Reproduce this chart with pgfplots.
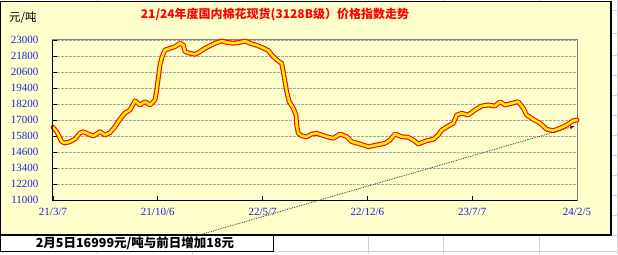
\documentclass[border=0pt]{standalone}
\usepackage{fontspec}
\setmainfont{Liberation Serif}
\newfontfamily\cjk{Noto Sans CJK SC}
\usepackage{pgfplots}
\usepackage{pgfplotstable}
\pgfplotsset{compat=1.18}
\usetikzlibrary{arrows.meta}
\definecolor{bgy}{HTML}{FFFFCC}
\definecolor{lblue}{RGB}{30,30,235}
\definecolor{xlgrid}{RGB}{210,210,210}
\pgfplotstableread{
d v
0 16450
7.5 16123
17.7 15373
24.4 15275
34.6 15373
44.7 15575
54.9 16025
61.6 16123
71.7 15950
81.9 15800
95.5 16123
105.7 15875
115.8 16048
126 16498
136.2 17075
146.3 17525
156.5 17750
166.7 18448
176.8 18125
187 18373
197.1 18125
207.3 18500
210.8 19250
213.4 20000
217.5 21125
221.5 21725
227.6 22250
237.8 22378
248 22498
258.1 22753
264.8 22625
268.3 22123
278.4 22003
288.6 21928
298.8 22123
308.9 22378
319.1 22573
329.2 22753
342.9 22925
353 22828
366.4 22753
380 22828
390.2 22925
400.4 22753
414 22603
427.4 22400
437.6 22213
447.7 21748
457.9 21425
464.8 21253
468 20623
471.5 19873
475 19123
480.2 18373
488.4 17878
493.9 17375
495.3 16625
498.5 16003
505.5 15815
515.6 15725
525.8 15950
535.9 16003
546.1 15875
556.3 15748
569.7 15628
583.3 15950
596.9 15748
607.1 15373
624 15200
640.8 14998
657.9 15125
674.8 15253
684.9 15500
695.1 15950
708.7 15748
722.1 15703
732.3 15500
742.4 15200
759.5 15448
772.9 15553
783.1 15875
790 16250
803.4 16550
813.6 16753
820.5 17375
830.6 17503
844.1 17375
857.7 17750
871.3 18050
884.7 18125
898.3 18050
908.5 18373
918.6 18125
932.3 18253
945.7 18373
955.9 17878
962.7 17375
976.2 17053
989.8 16753
1003.4 16303
1016.8 16198
1030.4 16378
1044 16625
1057.5 16950
1065 16999
}\cotton
\begin{document}
\begin{tikzpicture}[x=1bp,y=1bp]
\useasboundingbox (0,0) rectangle (618,254);
\coordinate (AX) at (53,54);
% spreadsheet grid behind the chart
\foreach \gx in {97,192,368,443,539,617} \draw[xlgrid,line width=0.8bp] (\gx,0) -- (\gx,254);
\foreach \gy in {244,221,199,179,159,139,119,99,79,59,39,19,3} \draw[xlgrid,line width=0.8bp] (0,\gy) -- (618,\gy);
% chart area
\draw[black,line width=1.3bp,fill=bgy] (0.7,19) rectangle (611,252.5);
% cell below
\fill[white] (0.7,3.5) rectangle (273,18.4);
\draw[black,line width=0.9bp] (0.7,19) -- (0.7,3) -- (273,3) -- (273,19);
\node[anchor=center,font=\cjk\bfseries\fontsize{12.5bp}{14bp}\selectfont] at (135,11) {2月5日16999元/吨与前日增加18元};
\node[anchor=center,text=red,font=\cjk\bfseries\fontsize{12bp}{14bp}\selectfont] at (275,239) {21/24年度国内棉花现货(3128B级）价格指数走势};
\node[anchor=west,font=\cjk\fontsize{11.5bp}{13bp}\selectfont,inner sep=0pt] at (9,236) {元/吨};
\begin{axis}[
  at={(AX)}, anchor=south west,
  scale only axis, width=524bp, height=160bp,
  xmin=0, xmax=1065, ymin=11000, ymax=23000,
  xtick={0,213,426,639,852,1065},
  xticklabels={21/3/7,21/10/6,22/5/7,22/12/6,23/7/7,24/2/5},
  ytick={11000,12200,13400,14600,15800,17000,18200,19400,20600,21800,23000},
  scaled y ticks=false, scaled x ticks=false,
  /pgf/number format/1000 sep={},
  /pgf/number format/fixed,
  /pgf/number format/assume math mode=true,
  xtick pos=lower, ytick pos=left,
  tick align=inside, major tick length=4bp,
  tick style={black, line width=0.8bp},
  ymajorgrids,
  major grid style={gray!70, line width=0.7bp, dash pattern=on 2.5bp off 1.5bp},
  axis line style={gray, line width=1bp},
  ticklabel style={text=lblue, font=\fontsize{11bp}{12bp}\selectfont},
  yticklabel style={xshift=-11bp},
  xticklabel style={yshift=-5bp},
  clip=false,
]
\addplot[red, line width=4.8bp, line join=round, line cap=round] table[x=d,y=v] {\cotton};
\addplot[yellow, line width=2.6bp, line join=round, line cap=round] table[x=d,y=v] {\cotton};
\draw[black, line width=1bp] (rel axis cs:0,1) -- (rel axis cs:0,0) -- (rel axis cs:1,0);
\draw[black!80, line width=0.8bp, densely dotted, -{Latex[length=5bp,width=4bp]}] (axis cs:297,8375) -- (axis cs:1061,16550);
\end{axis}
\end{tikzpicture}
\end{document}
